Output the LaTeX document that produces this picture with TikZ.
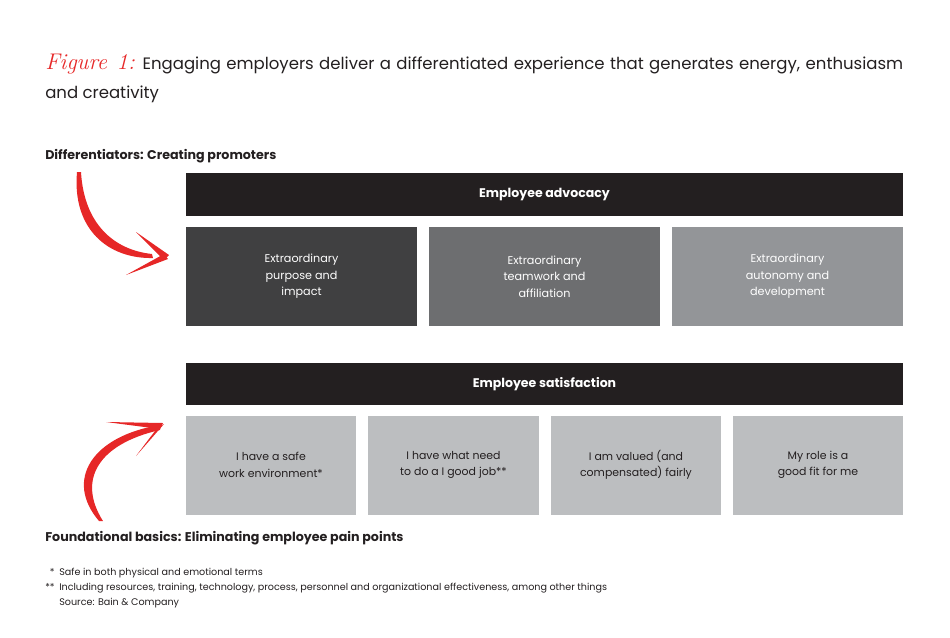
\documentclass[tikz,border=0pt]{standalone}
\usepackage{fontspec}
\setsansfont{Poppins}
\renewcommand{\familydefault}{\sfdefault}

\definecolor{bainred}{RGB}{230,39,39}
\definecolor{barblack}{RGB}{35,31,32}
\definecolor{greyA}{RGB}{64,64,65}
\definecolor{greyB}{RGB}{109,110,112}
\definecolor{greyC}{RGB}{147,149,152}
\definecolor{greyD}{RGB}{188,190,192}

\tikzset{
  bar/.style={fill=barblack, text=white, inner sep=0pt,
    minimum width=537.75pt, minimum height=32pt,
    font=\bfseries\fontsize{9.4}{11}\selectfont},
  topbox/.style={text=white, inner sep=0pt, align=center,
    minimum width=173.25pt, minimum height=74.25pt,
    font=\fontsize{8.4}{12.4}\selectfont},
  lowbox/.style={fill=greyD, text=barblack, inner sep=0pt, align=center,
    minimum width=128pt, minimum height=74.25pt,
    font=\fontsize{8.2}{12.4}\selectfont},
  heading/.style={anchor=base west, inner sep=0pt, text=barblack,
    font=\bfseries\fontsize{9.5}{11}\selectfont},
  brush/.style={fill=bainred, draw=none},
}

\begin{document}
\begin{tikzpicture}[x=0.75pt,y=-0.75pt]
    \useasboundingbox (0,0) rectangle (950,637);

    % title
    \node[anchor=north west, inner sep=0pt, text width=643.5pt, align=justify,
      text=barblack, font=\fontsize{12.4}{21.75}\selectfont] (title) at (45,54)
      {{\color{bainred}\rmfamily\itshape\fontsize{17}{21.75}\selectfont Figure 1:}
       Engaging employers deliver a differentiated experience that generates energy, enthusiasm and creativity};

    \node[heading] (diff) at (45,159) {Differentiators: Creating promoters};
    \node[heading] (found) at (45,541) {Foundational basics: Eliminating employee pain points};

    % upper block
    \node[bar] (advocacy) at (544.5,194.5) {Employee advocacy};
    \node[topbox, fill=greyA] (purpose) at (301.5,276.5) {Extraordinary\\purpose and\\impact};
    \node[topbox, fill=greyB] (teamwork) at (544.5,276.5) {Extraordinary\\teamwork and\\affiliation};
    \node[topbox, fill=greyC] (autonomy) at (787.5,276.5) {Extraordinary\\autonomy and\\development};

    % lower block
    \node[bar] (satisfaction) at (544.5,384) {Employee satisfaction};
    \node[lowbox] (safe) at (271,465) {I have a safe\\work environment*};
    \node[lowbox] (need) at (453.5,465) {I have what need\\to do a I good job**};
    \node[lowbox] (valued) at (636,465) {I am valued (and\\compensated) fairly};
    \node[lowbox] (fit) at (818,465) {My role is a\\good fit for me};

    % brush arrows
    \fill[brush] (77,172) .. controls (72,229) and (108,259) .. (153,258)
      -- (152,254) .. controls (114,250) and (84,224) .. (81,172) -- cycle;
    \fill[brush] (136,232) -- (169,255) -- (164,260) -- cycle;
    \fill[brush] (126,275) -- (164,254) -- (168,259) -- cycle;

    \fill[brush] (99,521) .. controls (64,480) and (92,436) .. (160,425)
      -- (160,430) .. controls (98,444) and (77,480) .. (103,521) -- cycle;
    \fill[brush] (106,422) -- (163,423) -- (160,429) -- cycle;
    \fill[brush] (164,424) -- (158,427) -- (136,456) -- cycle;

    % notes
    \node[anchor=north west, inner sep=0pt, text=barblack,
      font=\fontsize{7.2}{11.25}\selectfont] (notes) at (45,565)
      {\begin{tabular}{@{}r@{\hspace{3.5pt}}l@{}}
        * & Safe in both physical and emotional terms\\
        {**} & Including resources, training, technology, process, personnel and organizational effectiveness, among other things\\
           & Source: Bain \& Company
      \end{tabular}};
\end{tikzpicture}
\end{document}
